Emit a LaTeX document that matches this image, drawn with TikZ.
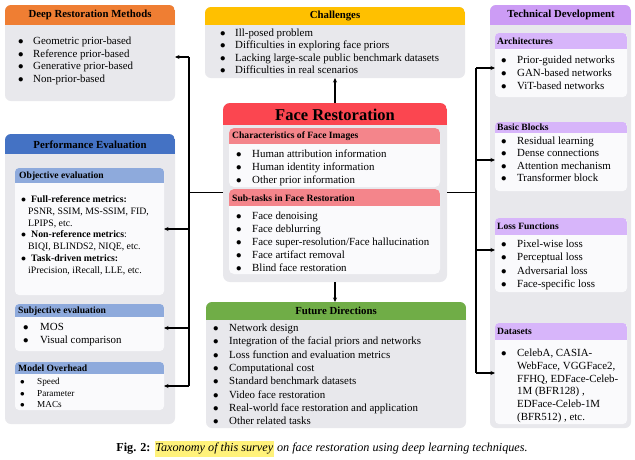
\documentclass[tikz,border=0pt]{standalone}
\usepackage{fontspec}
\setmainfont{Liberation Serif}
\usetikzlibrary{arrows.meta,fit}
\definecolor{bodygray}{HTML}{E8E8EC}
\definecolor{subbody}{HTML}{FAFAFC}
\definecolor{corange}{HTML}{EF7E33}
\definecolor{cgold}{HTML}{FFC000}
\definecolor{cred}{HTML}{FB4650}
\definecolor{cpink}{HTML}{F4858B}
\definecolor{cblue}{HTML}{4472C4}
\definecolor{clblue}{HTML}{8EAADC}
\definecolor{cgreen}{HTML}{70AD47}
\definecolor{cpurple}{HTML}{CC9CF5}
\definecolor{clpurple}{HTML}{D7B5FA}
\definecolor{hl}{HTML}{FFF27A}
\newlength\bw
\newcommand\blist[2]{\setlength\bw{#1}\begin{tabular}[t]{@{}l@{}}#2\end{tabular}}
\newcommand\bi[1]{\makebox[\bw][l]{$\bullet$}#1\\}
% name, x1, y1, x2, y2, header bottom, header colour, body colour, rounding
\newcommand\panel[9]{%
  \fill[#8,rounded corners=#9] (#2,#3) rectangle (#4,#5);
  \begin{scope}
    \clip[rounded corners=#9] (#2,#3) rectangle (#4,#5);
    \fill[#7] (#2,#3) rectangle (#4,#6);
  \end{scope}
  \node[fit={(#2,#3) (#4,#5)},inner sep=0pt,outer sep=0pt] (#1) {};
}
\tikzset{
  conn/.style={line width=1.1pt,black},
  arr/.style={conn,-{Stealth[length=4.5pt,width=4pt]}},
  hdr/.style={font=\fontsize{10.8}{12}\selectfont\bfseries,inner sep=0pt},
  subhdr/.style={font=\fontsize{9.6}{10}\selectfont\bfseries,inner sep=0pt,anchor=west},
  lst/.style={inner sep=0pt,anchor=base west,font=\fontsize{10.9}{13}\selectfont},
}
\begin{document}
\begin{tikzpicture}[x=1pt,y=-1pt]
\fill[white] (0,0) rectangle (635,459);
\useasboundingbox (0,0) rectangle (635,459);

% ---------------- Deep Restoration Methods
\panel{deep}{5}{5}{175}{101}{25}{corange}{bodygray}{6pt}
\node[hdr] (deept) at (90,15) {Deep Restoration Methods};
\node[lst,font=\fontsize{10.9}{12.7}\selectfont] (deepl) at (18,44.5) {\blist{15pt}{%
\bi{Geometric prior-based}\bi{Reference prior-based}\bi{Generative prior-based}\bi{Non-prior-based}}};

% ---------------- Performance Evaluation
\panel{perf}{5}{134}{175}{424}{154}{cblue}{bodygray}{6pt}
\node[hdr] (perft) at (90,144.5) {Performance Evaluation};
\panel{obj}{15}{168}{164}{295}{183}{clblue}{subbody}{4pt}
\node[subhdr] (objt) at (19,176) {Objective evaluation};
\node[lst,font=\fontsize{9.8}{11.8}\selectfont] (objl) at (21,202.5) {\blist{10pt}{%
\bi{\textbf{Full-reference metrics:}}
\hspace*{7pt}PSNR, SSIM, MS-SSIM, FID,\\
\hspace*{7pt}LPIPS, etc.\\
\bi{\textbf{Non-reference metrics}:}
\hspace*{7pt}BIQI, BLINDS2, NIQE, etc.\\
\bi{\textbf{Task-driven metrics:}}
\hspace*{7pt}iPrecision, iRecall, LLE, etc.\\}};
\panel{subj}{15}{304}{164}{351}{317}{clblue}{subbody}{4pt}
\node[subhdr] (subjt) at (18,311) {Subjective evaluation};
\node[lst,font=\fontsize{10.9}{13}\selectfont] (subjl) at (23,330.5) {\blist{17pt}{%
\bi{MOS}\bi{Visual comparison}}};
\panel{model}{15}{362}{164}{410}{374}{clblue}{subbody}{4pt}
\node[subhdr] (modelt) at (18,368) {Model Overhead};
\node[lst,font=\fontsize{9.2}{11.5}\selectfont] (modell) at (20,384.5) {\blist{17pt}{%
\bi{Speed}\bi{Parameter}\bi{MACs}}};

% ---------------- Challenges
\panel{chal}{205}{7}{465}{78}{25}{cgold}{bodygray}{6pt}
\node[hdr] (chalt) at (335,16) {Challenges};
\node[lst,font=\fontsize{10.9}{12.3}\selectfont] (chall) at (220,36.5) {\blist{15pt}{%
\bi{Ill-posed problem}\bi{Difficulties in exploring face priors}%
\bi{Lacking large-scale public benchmark datasets}\bi{Difficulties in real scenarios}}};

% ---------------- Face Restoration
\panel{face}{223}{103}{447}{282}{125}{cred}{bodygray}{7pt}
\node[font=\fontsize{16.5}{18}\selectfont\bfseries,inner sep=0pt] (facet) at (335,114.5) {Face Restoration};
\panel{char}{229}{128}{440}{187}{144}{cpink}{subbody}{5pt}
\node[subhdr] (chart) at (232,136) {Characteristics of Face Images};
\node[lst] (charl) at (236,157.5) {\blist{16pt}{%
\bi{Human attribution information}\bi{Human identity information}\bi{Other prior information}}};
\panel{sub}{229}{189}{440}{274}{206}{cpink}{subbody}{5pt}
\node[subhdr] (subt) at (232,198) {Sub-tasks in Face Restoration};
\node[lst] (subl) at (236,219.5) {\blist{16pt}{%
\bi{Face denoising}\bi{Face deblurring}\bi{Face super-resolution/Face hallucination}%
\bi{Face artifact removal}\bi{Blind face restoration}}};

% ---------------- Future Directions
\panel{fut}{206}{302}{466}{428}{320}{cgreen}{bodygray}{6pt}
\node[hdr] (futt) at (336,311) {Future Directions};
\node[lst,font=\fontsize{10.9}{13.3}\selectfont] (futl) at (213,331.5) {\blist{16pt}{%
\bi{Network design}\bi{Integration of the facial priors and networks}%
\bi{Loss function and evaluation metrics}\bi{Computational cost}%
\bi{Standard benchmark datasets}\bi{Video face restoration}%
\bi{Real-world face restoration and application}\bi{Other related tasks}}};

% ---------------- Technical Development
\panel{tech}{490}{5}{631}{428}{25}{cpurple}{bodygray}{6pt}
\node[hdr] (techt) at (561,15) {Technical Development};
\panel{arch}{495}{33}{627}{97}{49}{clpurple}{subbody}{4pt}
\node[subhdr] (archt) at (497,41.5) {Architectures};
\node[lst] (archl) at (501,63.5) {\blist{16pt}{%
\bi{Prior-guided networks}\bi{GAN-based networks}\bi{ViT-based networks}}};
\panel{basic}{495}{122}{627}{191}{133}{clpurple}{subbody}{4pt}
\node[subhdr] (basict) at (497,127.3) {Basic Blocks};
\node[lst,font=\fontsize{10.9}{12.5}\selectfont] (basicl) at (501,144) {\blist{16pt}{%
\bi{Residual learning}\bi{Dense connections}\bi{Attention mechanism}\bi{Transformer block}}};
\panel{loss}{495}{218}{627}{292}{235}{clpurple}{subbody}{4pt}
\node[subhdr] (losst) at (497,226) {Loss Functions};
\node[lst,font=\fontsize{10.9}{13.3}\selectfont] (lossl) at (501,247.5) {\blist{16pt}{%
\bi{Pixel-wise loss}\bi{Perceptual loss}\bi{Adversarial loss}\bi{Face-specific loss}}};
\panel{data}{495}{323}{627}{424}{340}{clpurple}{subbody}{4pt}
\node[subhdr] (datat) at (497,331) {Datasets};
\node[lst,font=\fontsize{10.9}{12.8}\selectfont] (datal) at (501,356.5) {\blist{16pt}{%
\bi{CelebA, CASIA-}
\hspace*{16pt}WebFace, VGGFace2,\\
\hspace*{16pt}FFHQ, EDFace-Celeb-\\
\hspace*{16pt}1M (BFR128) ,\\
\hspace*{16pt}EDFace-Celeb-1M\\
\hspace*{16pt}(BFR512) , etc.\\}};

% ---------------- connectors
\coordinate (ltop) at (189,57);
\coordinate (lbot) at (189,386);
\coordinate (lobj) at (189,229);
\coordinate (lsubj) at (189,328);
\coordinate (rtop) at (476,68);
\coordinate (rbasic) at (476,160);
\coordinate (rloss) at (476,250);
\coordinate (rbot) at (476,373);

\draw[arr] (face.north) -- (face.north |- chal.south);
\draw[arr] (face.south) -- (face.south |- fut.north);
\draw[conn] (face.west) -- (face.west -| ltop);
\draw[conn] (ltop) -- (lbot);
\draw[arr] (ltop) -- (ltop -| deep.east);
\draw[arr] (lobj) -- (lobj -| obj.east);
\draw[arr] (lsubj) -- (lsubj -| subj.east);
\draw[arr] (lbot) -- (lbot -| model.east);
\draw[conn] (face.east) -- (face.east -| rtop);
\draw[conn] (rtop) -- (rbot);
\draw[arr] (rtop) -- (rtop -| arch.west);
\draw[arr] (rbasic) -- (rbasic -| basic.west);
\draw[arr] (rloss) -- (rloss -| loss.west);
\draw[arr] (rbot) -- (rbot -| data.west);

% ---------------- caption
\node[inner sep=0pt,font=\fontsize{12.2}{14}\selectfont] (cap) at (322,449)
 {\textbf{Fig. 2:} {\setlength\fboxsep{0.8pt}\colorbox{hl}{\strut\textit{Taxonomy of this survey}}} \textit{on face restoration using deep learning techniques.}};
\end{tikzpicture}
\end{document}
